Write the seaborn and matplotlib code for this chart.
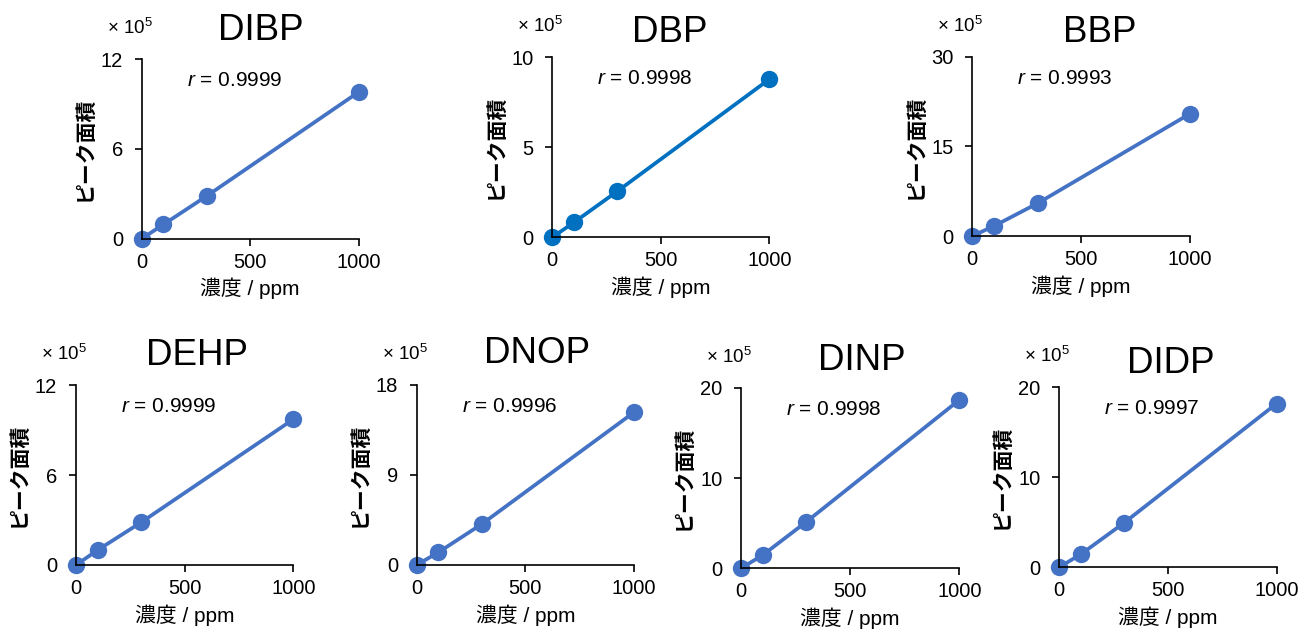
import matplotlib
matplotlib.use('Agg')
import matplotlib.pyplot as plt
import seaborn as sns

# 検量線 (7種のフタル酸エステル)
conc = [0, 100, 300, 1000]

names = ['DIBP', 'DBP', 'BBP', 'DEHP', 'DNOP', 'DINP', 'DIDP']
r_values = ['0.9999', '0.9998', '0.9993', '0.9999', '0.9996', '0.9998', '0.9997']
ymax = [12, 10, 30, 12, 18, 20, 20]

dibp = [0, 0.95, 2.86, 9.81]
dbp = [0, 0.83, 2.56, 8.78]
bbp = [0, 1.67, 5.47, 20.46]
dehp = [0, 1.0, 2.85, 9.73]
dnop = [0, 1.27, 4.1, 15.27]
dinp = [0, 1.47, 5.16, 18.64]
didp = [0, 1.44, 4.96, 18.2]
series = [dibp, dbp, bbp, dehp, dnop, dinp, didp]

colors = ['#4472C4', '#0070C0', '#4472C4', '#4472C4', '#4472C4', '#4472C4', '#4472C4']

# 軸の位置 (ピクセル: 左, 上, 右, 下)
rects = [
    (141.7, 59.3, 358.7, 238.7),
    (552.3, 57.3, 769.3, 237.3),
    (972.3, 56.7, 1190.0, 236.0),
    (76.0, 385.3, 293.3, 565.0),
    (416.7, 385.0, 634.0, 565.0),
    (741.0, 387.7, 959.3, 568.3),
    (1059.0, 387.3, 1276.7, 567.3),
]
# タイトル位置 (中心x, ベースラインy)
title_pos = [(261, 40), (670, 41.7), (1100, 41.7), (197, 365), (537, 363), (861.5, 370), (1171, 373)]

sns.set_style('ticks')
plt.rcParams['font.family'] = ['Liberation Sans', 'Noto Sans CJK JP', 'DejaVu Sans']
plt.rcParams['mathtext.fontset'] = 'custom'
plt.rcParams['mathtext.rm'] = 'Liberation Sans'
plt.rcParams['mathtext.it'] = 'Liberation Sans:italic'
plt.rcParams['text.color'] = 'black'
plt.rcParams['axes.labelcolor'] = 'black'

W, H = 1301, 629
fig = plt.figure(figsize=(W / 100, H / 100), dpi=100)
fig.patch.set_facecolor('white')


def fx(px):
    return px / W


def fy(py):
    return 1 - py / H


for i in range(len(names)):
    x0, yt, x1, yb = rects[i]
    ax = fig.add_axes([fx(x0), fy(yb), fx(x1) - fx(x0), fy(yt) - fy(yb)])
    ax.set_facecolor('white')
    sns.lineplot(x=conc, y=series[i], ax=ax, color=colors[i], marker='o',
                 markersize=12.5, linewidth=2.7, markeredgewidth=0)
    for ln in ax.lines:
        ln.set_clip_on(False)
    ax.set_xlim(0, 1000)
    ax.set_ylim(0, ymax[i])
    ax.set_xticks([0, 500, 1000])
    ax.set_yticks([0, ymax[i] / 2, ymax[i]])
    ax.set_yticklabels([str(int(v)) for v in [0, ymax[i] / 2, ymax[i]]])
    sns.despine(ax=ax)
    for s in ['left', 'bottom']:
        ax.spines[s].set_linewidth(1.2)
        ax.spines[s].set_color('black')
    ax.tick_params(axis='both', direction='out', length=5, width=1.2,
                   color='black', labelsize=14.5, labelcolor='black')
    ax.tick_params(axis='x', pad=5)
    ax.tick_params(axis='y', pad=8.5)

    w = x1 - x0
    h = yb - yt
    ax.set_xlabel('濃度 / ppm', fontsize=15)
    ax.xaxis.set_label_coords(0.5, -50 / h)
    ax.xaxis.label.set_verticalalignment('center')
    ax.set_ylabel('ピーク面積', fontsize=15, fontweight='bold')
    ax.yaxis.set_label_coords(-57 / w, 0.5)
    ax.yaxis.label.set_verticalalignment('center')

    # r値
    fig.text(fx(x0 + 45), fy(yt + 27), '$r$ = ' + r_values[i], fontsize=15,
             ha='left', va='baseline')
    # ×10^5
    fig.text(fx(x0 - 35), fy(yt - 25), '× 10$^{5}$', fontsize=13.5,
             ha='left', va='baseline')
    # タイトル
    tx, ty = title_pos[i]
    fig.text(fx(tx), fy(ty), names[i], fontsize=26.5, ha='center', va='baseline')

plt.savefig('out.png', dpi=100, facecolor='white')
